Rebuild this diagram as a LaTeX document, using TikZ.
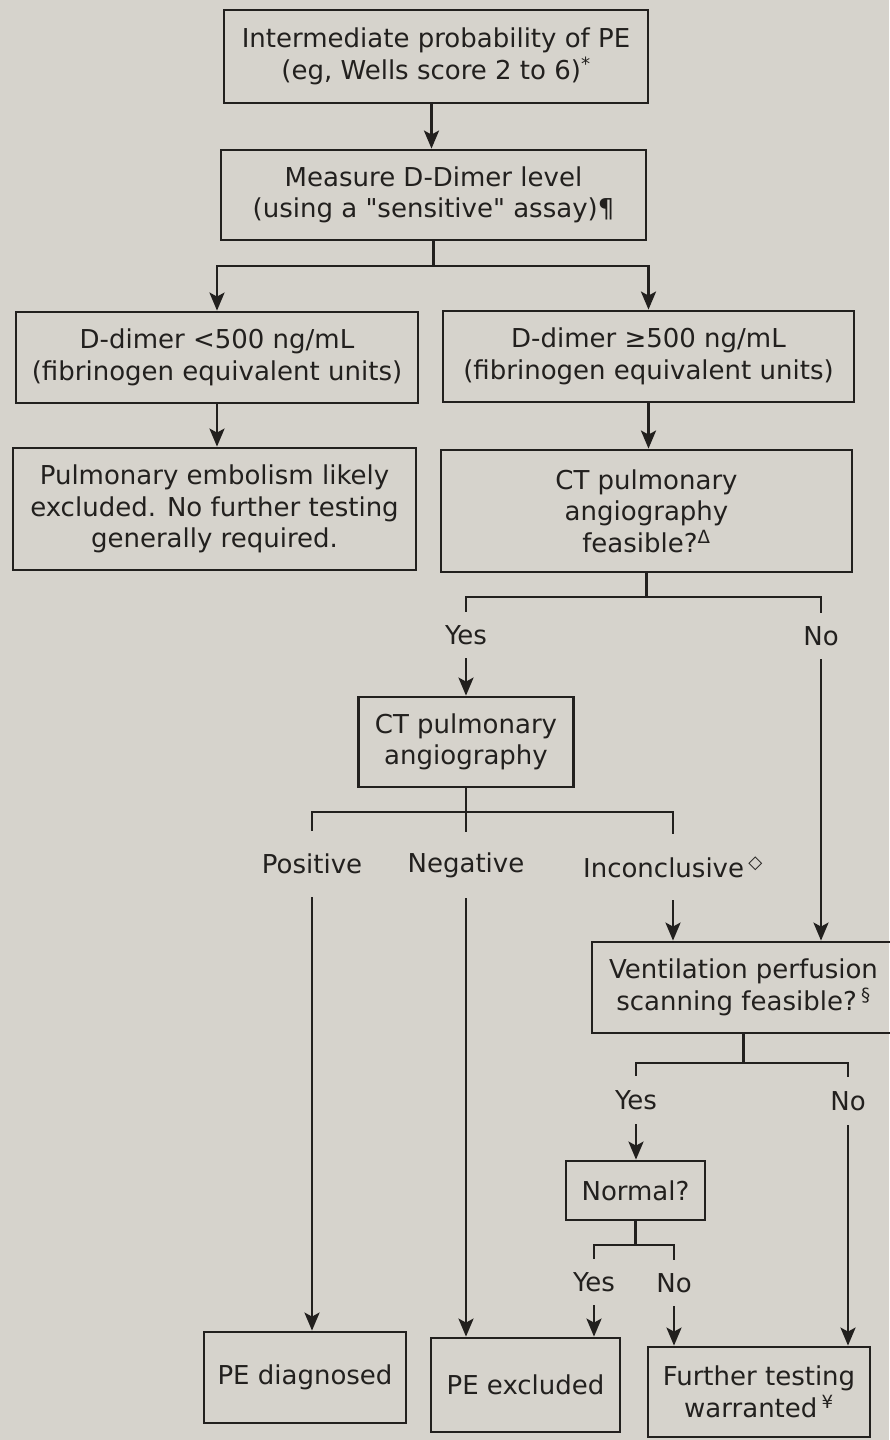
\documentclass[tikz,border=0pt]{standalone}
\usepackage{fontspec}
\setmainfont{DejaVu Sans}[Ligatures=TeXOff]
\usetikzlibrary{arrows.meta}
\definecolor{paper}{RGB}{214,211,204}
\definecolor{ink}{RGB}{34,32,30}
\begin{document}
\begin{tikzpicture}[x=1pt,y=1pt,
  txt/.style={text=ink, font=\fontsize{26}{31.5}\selectfont},
  box/.style={txt, draw=ink, line width=2.8pt, align=center, inner sep=0pt},
  lbl/.style={txt, inner sep=0pt},
  link/.style={draw=ink, line width=2.8pt},
  arr/.style={link, -{Stealth[length=18pt,width=15pt,inset=4pt]}}]

% page
\fill[paper] (0,0) rectangle (889,-1440);
\useasboundingbox (0,0) rectangle (889,-1440);

% boxes
\node[box, minimum width=424pt, minimum height=93pt] (prob) at (436,-56.5)
  {Intermediate probability of PE\\(eg, Wells score 2 to 6)\textsuperscript{*}};
\node[box, minimum width=425pt, minimum height=90pt] (measure) at (433.5,-195)
  {Measure D-Dimer level\\(using a "sensitive" assay)¶};
\node[box, minimum width=402pt, minimum height=91pt] (dlow) at (217,-357.5)
  {D-dimer <500 ng/mL\\(fibrinogen equivalent units)};
\node[box, minimum width=411pt, minimum height=91pt] (dhigh) at (648.5,-356.5)
  {D-dimer ≥500 ng/mL\\(fibrinogen equivalent units)};
\node[box, minimum width=403pt, minimum height=122pt] (likely) at (214.5,-509)
  {Pulmonary embolism likely\\excluded. No further testing\\generally required.};
\node[box, minimum width=411pt, minimum height=122pt] (feas) at (646.5,-511)
  {CT pulmonary\\angiography\\feasible?\textsuperscript{Δ}};
\node[box, minimum width=215pt, minimum height=90pt] (ctpa) at (466,-742)
  {CT pulmonary\\angiography};
\node[box, minimum width=303pt, minimum height=91pt] (vq) at (743.5,-987.5)
  {Ventilation perfusion\\scanning feasible?\,\textsuperscript{§}};
\node[box, minimum width=139pt, minimum height=59pt] (normal) at (635.5,-1190.5)
  {Normal?};
\node[box, minimum width=202pt, minimum height=91pt] (diag) at (305,-1377.5)
  {PE diagnosed};
\node[box, minimum width=189pt, minimum height=94pt] (excl) at (525.5,-1385)
  {PE excluded};
\node[box, minimum width=222pt, minimum height=90pt] (further) at (759,-1392)
  {Further testing\\warranted\,\textsuperscript{¥}};

% branch labels
\node[lbl, minimum height=46pt] (yes1) at (466,-635) {Yes};
\node[lbl, minimum height=46pt] (no1) at (821,-636) {No};
\node[lbl, minimum height=66pt] (pos) at (312,-864) {Positive};
\node[lbl, minimum height=66pt] (neg) at (466,-865) {Negative};
\node[lbl, minimum height=66pt] (inc) at (673,-867) {Inconclusive\,\textsuperscript{◇}};
\node[lbl, minimum height=48pt] (yes2) at (636,-1100) {Yes};
\node[lbl, minimum height=48pt] (no2) at (848,-1101) {No};
\node[lbl, minimum height=46pt] (yes3) at (594,-1282) {Yes};
\node[lbl, minimum height=46pt] (no3) at (674,-1283) {No};

% junction points
\coordinate (dbar) at (433.5,-266);
\coordinate (fbar) at (646.5,-597);
\coordinate (ctbar) at (466,-812);
\coordinate (vbar) at (743.5,-1063);
\coordinate (nbar) at (635.5,-1245);

% connectors
\draw[arr] (prob.south -| measure.north) ++(-2,0) coordinate (p1) -- (p1 |- measure.north);
\draw[link] (measure.south) -- (dbar);
\draw[arr] (dbar) -| (dlow.north);
\draw[arr] (dbar) -| (dhigh.north);
\draw[arr] (dlow.south) -- (dlow.south |- likely.north);
\draw[arr] (dhigh.south) -- (dhigh.south |- feas.north);

\draw[link] (feas.south) -- (fbar);
\draw[link] (fbar) -| (yes1.north);
\draw[link] (fbar) -| (no1.north);
\draw[arr] (yes1.south) -- (yes1.south |- ctpa.north);
\draw[arr] (no1.south) -- (no1.south |- vq.north);

\draw[link] (ctpa.south) -- (neg.north);
\draw[link] (pos.north) |- (ctbar) -| (inc.north);
\draw[arr] (pos.south) -- (pos.south |- diag.north);
\draw[arr] (neg.south) -- (neg.south |- excl.north);
\draw[arr] (inc.south) -- (inc.south |- vq.north);

\draw[link] (vq.south) -- (vbar);
\draw[link] (vbar) -| (yes2.north);
\draw[link] (vbar) -| (no2.north);
\draw[arr] (yes2.south) -- (yes2.south |- normal.north);
\draw[arr] (no2.south) -- (no2.south |- further.north);

\draw[link] (normal.south) -- (nbar);
\draw[link] (nbar) -| (yes3.north);
\draw[link] (nbar) -| (no3.north);
\draw[arr] (yes3.south) -- (yes3.south |- excl.north);
\draw[arr] (no3.south) -- (no3.south |- further.north);
\end{tikzpicture}
\end{document}
